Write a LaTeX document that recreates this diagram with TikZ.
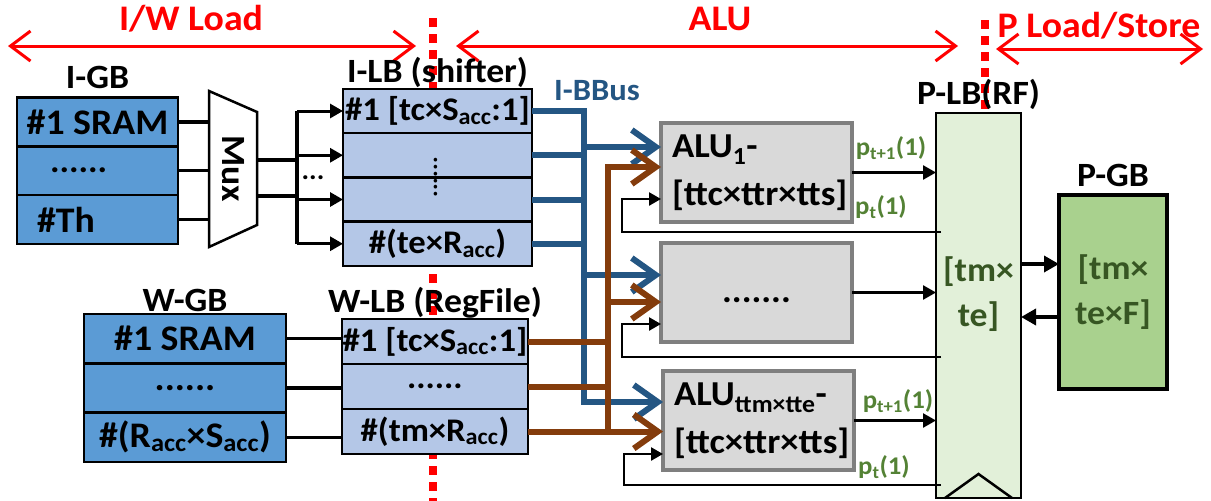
\documentclass[tikz,border=0pt]{standalone}
\usepackage{fontspec}
\setmainfont{Carlito}[FakeStretch=1.05]
\usepackage{xcolor}
\usepackage{tikz}
\usetikzlibrary{
  arrows.meta,
  positioning,
  calc,
}

\definecolor{gbblue}{HTML}{5B9BD5}
\definecolor{lbblue}{HTML}{B4C7E7}
\definecolor{alufill}{HTML}{D9D9D9}
\definecolor{aluedge}{HTML}{7F7F7F}
\definecolor{plbfill}{HTML}{E2F0D9}
\definecolor{pgbfill}{HTML}{A9D18E}
\definecolor{busblue}{HTML}{245683}
\definecolor{busbrown}{HTML}{843C0C}
\definecolor{pgreen}{HTML}{548235}
\definecolor{pdark}{HTML}{375623}

\begin{document}
\begin{tikzpicture}[
  x=1pt, y=-1pt,
  every node/.style={align=center, inner sep=0pt, outer sep=0pt,
    font=\bfseries\fontsize{34}{40}\selectfont},
  hdr/.style={text=red, font=\bfseries\fontsize{36}{40}\selectfont},
  phase/.style={red, line width=8pt, dash pattern=on 9pt off 7pt},
  phasearrow/.style={red, line width=3pt,
    {Straight Barb[length=20pt,width=30pt]}-{Straight Barb[length=20pt,width=30pt]}},
  cell/.style={draw, line width=2.5pt},
  igbrow/.style={cell, fill=gbblue, minimum width=161pt, minimum height=48.7pt,
    font=\bfseries\fontsize{36}{40}\selectfont},
  wgbrow/.style={cell, fill=gbblue, minimum width=202pt, minimum height=49.3pt,
    font=\bfseries\fontsize{36}{40}\selectfont},
  ilbrow/.style={cell, fill=lbblue, minimum width=189pt, minimum height=44.25pt,
    font=\bfseries\fontsize{33}{38}\selectfont},
  wlbrow/.style={cell, fill=lbblue, minimum width=186pt, minimum height=45pt,
    font=\bfseries\fontsize{33}{38}\selectfont},
  alubox/.style={draw=aluedge, fill=alufill, line width=4pt,
    minimum width=191pt, minimum height=99pt, text width=169pt,
    inner xsep=11pt, align=left, font=\bfseries\fontsize{35}{48}\selectfont},
  plbl/.style={text=pgreen, font=\bfseries\fontsize{25.5}{28}\selectfont},
  wire/.style={line width=3.5pt},
  feed/.style={line width=3pt, -{Triangle[length=13pt,width=14pt]}},
  fback/.style={line width=2.5pt, -{Triangle[length=12pt,width=13pt]}},
  bus/.style={line width=6pt},
  bustip/.style={bus, -{Straight Barb[length=24pt,width=34pt]}},
]

\useasboundingbox (0,0) rectangle (1211,501);

% phase borders and spans
\draw[phase] (433,18) -- (433,501);
\draw[phase] (985,20) -- (985,112);
\coordinate (iwL) at (8,46);
\coordinate (iwR) at (416,46);
\coordinate (aluL) at (456,46);
\coordinate (aluR) at (958,46);
\coordinate (plsL) at (996,49);
\coordinate (plsR) at (1203,49);
\draw[phasearrow] (iwL) -- (iwR);
\draw[phasearrow] (aluL) -- (aluR);
\draw[phasearrow] (plsL) -- (plsR);
\node[hdr] (hiw) at (191,19) {I/W Load};
\node[hdr] (halu) at (720,19) {ALU};
\node[hdr] (hpls) at (1099,26) {P Load/Store};

% I-GB
\node[igbrow] (igb1) at (97.5,122) {\#1 SRAM};
\node[igbrow, below=0pt of igb1] (igb2) {};
\node[igbrow, below=0pt of igb2] (igb3) {};
\node[right=33pt of igb2.west] (igbdots) {......};
\node[right=20pt of igb3.west, font=\bfseries\fontsize{36}{40}\selectfont] (igbth) {\#Th};
\node[above=9pt of igb1] (igblbl) {I-GB};

% I-LB
\node[ilbrow] (ilb1) at (437.5,111) {\#1 [tc×S\textsubscript{acc}:1]};
\node[ilbrow, below=0pt of ilb1] (ilb2) {};
\node[ilbrow, below=0pt of ilb2] (ilb3) {};
\node[ilbrow, below=0pt of ilb3] (ilb4) {\#(te×R\textsubscript{acc})};
\node[rotate=90, font=\bfseries\fontsize{24}{28}\selectfont] (ilbdots)
  at ([xshift=-2pt]ilb2.south) {......};
\node[above=1pt of ilb1] (ilblbl) {I-LB (shifter)};

% Mux
\draw[line width=2.5pt, fill=white] (209,91) -- (257,112) -- (257,225) -- (209,247) -- cycle;
\node[rotate=-90] (mux) at (233,169) {Mux};
\coordinate (muxin) at (209,169);
\coordinate (muxo1) at (257,160);
\coordinate (muxo2) at (257,196);
\coordinate (fan) at (297,177);
\foreach \r in {1,2,3} \draw[wire] (igb\r.east) -- (igb\r.east -| muxin);
\draw[wire] (muxo1) -- (muxo1 -| fan);
\draw[wire] (muxo2) -- (muxo2 -| fan);
\draw[wire] (fan |- ilb1.west) -- (fan |- ilb4.west);
\foreach \r in {1,...,4} \draw[feed] (fan |- ilb\r.west) -- (ilb\r.west);
\node[font=\bfseries\fontsize{27}{30}\selectfont] (fandots)
  at ([xshift=-30pt]$(ilb2.west)!.5!(ilb3.west)$) {...};

% W-GB and W-LB
\node[wgbrow] (wgb1) at (185,338.7) {\#1 SRAM};
\node[wgbrow, below=0pt of wgb1] (wgb2) {......};
\node[wgbrow, below=0pt of wgb2] (wgb3) {\#(R\textsubscript{acc}×S\textsubscript{acc})};
\node[above=2pt of wgb1] (wgblbl) {W-GB};
\node[wlbrow] (wlb1) at (435,341.5) {\#1 [tc×S\textsubscript{acc}:1]};
\node[wlbrow, below=0pt of wlb1] (wlb2) {......};
\node[wlbrow, below=0pt of wlb2] (wlb3) {\#(tm×R\textsubscript{acc})};
\node[above=1pt of wlb1] (wlblbl) {W-LB (RegFile)};
\foreach \r in {1,2,3} \draw[wire] (wgb\r.east) -- (wgb\r.east -| wlb1.west);

% ALUs
\node[alubox] (alu1) at (756.5,172.5) {ALU\textsubscript{1}-\\{}[ttc×ttr×tts]};
\node[alubox, align=center] (alu2) at (756.5,292.5) {\strut.......};
\node[alubox] (alu3) at (758.5,420.5) {ALU\textsubscript{ttm×tte}-\\{}[ttc×ttr×tts]};

% P-LB and P-GB
\node[cell, fill=plbfill, minimum width=85pt, minimum height=385pt] (plb) at (978.5,305.5) {};
\draw[line width=2.5pt] ([xshift=-33.5pt]plb.south) -- ([yshift=24pt]plb.south)
  -- ([xshift=33.5pt]plb.south);
\node[text=pdark, font=\bfseries\fontsize{34}{45}\selectfont] (plbtxt)
  at ([yshift=11pt]plb.center) {[tm×\\te]};
\node[above=3pt of plb] (plblbl) {P-LB(RF)};
\node[draw, line width=4pt, fill=pgbfill, minimum width=108pt, minimum height=194pt,
  text=pdark, font=\bfseries\fontsize{34}{45}\selectfont] (pgb) at (1113,292) {[tm×\\te×F]};
\node[above=8pt of pgb] (pgblbl) {P-GB};
\coordinate (pgbin) at ([yshift=28pt]pgb.west);
\coordinate (pgbout) at ([yshift=-25pt]pgb.west);
\draw[wire, -{Triangle[length=15pt,width=16pt]}] (pgbin -| plb.east) -- (pgbin);
\draw[wire, -{Triangle[length=15pt,width=16pt]}] (pgbout) -- (pgbout -| plb.east);

% buses
\coordinate (ibus) at (584,250);
\coordinate (wbus) at (608,300);
\coordinate (alu1b) at ([yshift=25.5pt]alu1.west);
\coordinate (alu2b) at ([yshift=17.5pt]alu2.west);
\coordinate (alu3b) at ([yshift=18.5pt]alu3.west);
\coordinate (alu1w) at ([yshift=5.5pt]alu1.west);
\coordinate (alu2w) at ([yshift=-9.5pt]alu2.west);
\coordinate (alu3w) at (wlb3.east -| alu3.west);
\draw[bustip, busblue] (ilb1.east) -| (ibus |- alu3b) -- (alu3b);
\foreach \r in {2,3,4} \draw[bus, busblue] (ilb\r.east) -- (ilb\r.east -| ibus);
\draw[bustip, busblue] (ibus |- alu1b) -- (alu1b);
\draw[bustip, busblue] (ibus |- alu2b) -- (alu2b);
\draw[bustip, busbrown] (wlb3.east -| wbus) |- (alu1w);
\draw[bustip, busbrown] (wlb3.east) -- (alu3w);
\foreach \r in {1,2} \draw[bus, busbrown] (wlb\r.east) -- (wlb\r.east -| wbus);
\draw[bustip, busbrown] (wbus |- alu2w) -- (alu2w);
\node[text=busblue, font=\bfseries\fontsize{31}{34}\selectfont] (ibbus) at (597,91) {I-BBus};

% ALU outputs and feedback
\foreach \a in {1,2,3} \draw[feed, line width=2.5pt] (alu\a.east) -- (alu\a.east -| plb.west);
\foreach \a/\d/\f in {1/-26.5/-10, 2/-31.5/-15, 3/-33.5/-15} {
  \coordinate (in\a) at ([yshift=\d pt]alu\a.west);
  \coordinate (fb\a) at ([yshift=\f pt]alu\a.south);
  \draw[fback] ([xshift=5pt]plb.west |- fb\a) -| ([xshift=-39pt]in\a) -- (in\a);
}
\node[plbl] (p1out) at (891,148) {p\textsubscript{t+1}(1)};
\node[plbl] (p1in) at (881,207) {p\textsubscript{t}(1)};
\node[plbl] (p3out) at (898,401) {p\textsubscript{t+1}(1)};
\node[plbl] (p3in) at (884,467) {p\textsubscript{t}(1)};

\end{tikzpicture}
\end{document}
